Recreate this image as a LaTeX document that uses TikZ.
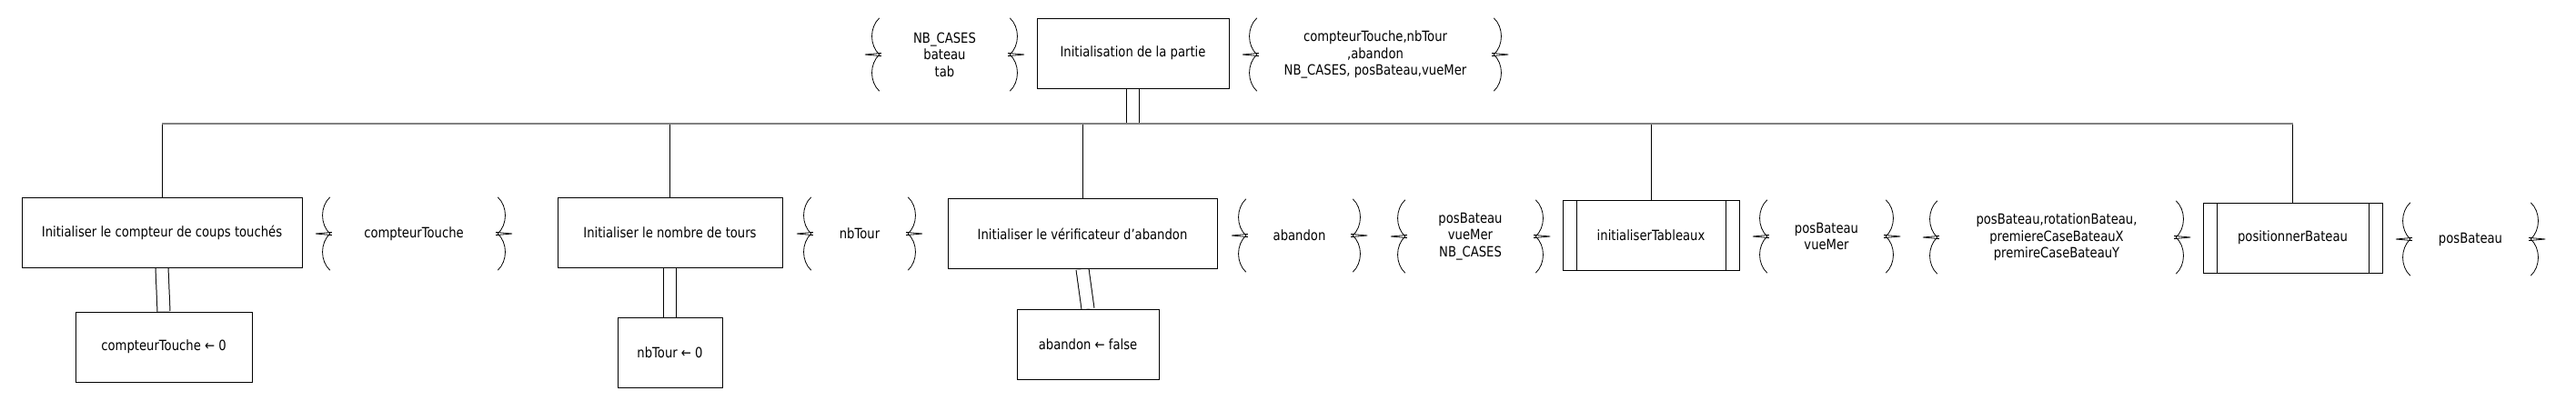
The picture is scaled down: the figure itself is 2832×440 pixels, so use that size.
\documentclass[tikz,border=0pt]{standalone}
\usepackage{fontspec}
\setmainfont{DejaVu Sans}[FakeStretch=0.85]
\usetikzlibrary{backgrounds}

% accolades de part et d'autre d'un noeud de parametres
\newcommand{\accolades}[1]{%
  \draw[fin] (#1.north west) .. controls +(-11,10) and +(-11,-10) .. (#1.west)
        .. controls +(-11,10) and +(-11,-10) .. (#1.south west);
  \draw[fin] (#1.west) ++(2,-1.6) -- ++(-18,1.6) -- ++(18,1.6);
  \draw[fin] (#1.north east) .. controls +(11,10) and +(11,-10) .. (#1.east)
        .. controls +(11,10) and +(11,-10) .. (#1.south east);
  \draw[fin] (#1.east) ++(-2,-1.6) -- ++(18,1.6) -- ++(-18,1.6);
}

\begin{document}
\begin{tikzpicture}[x=1pt,y=-1pt,
    police/.style={font=\fontsize{15.5}{18.5}\selectfont},
    bloc/.style={draw,line width=1pt,fill=white,minimum height=77pt,inner sep=0pt,police},
    sousbloc/.style={bloc,path picture={
        \draw[line width=1pt] ([xshift=15pt]path picture bounding box.north west) -- ([xshift=15pt]path picture bounding box.south west);
        \draw[line width=1pt] ([xshift=-15pt]path picture bounding box.north east) -- ([xshift=-15pt]path picture bounding box.south east);}},
    params/.style={minimum height=80pt,inner sep=0pt,align=center,police},
    fin/.style={line width=0.8pt},
    lien/.style={line width=1pt},
    liendouble/.style={double,double distance=13pt,line width=1pt},
    barre/.style={line width=2.2pt,gray}]
  \useasboundingbox (0,0) rectangle (2832,440);

  % racine
  \node[bloc,minimum width=211pt] (partie) at (1245.5,58.5) {Initialisation de la partie};
  \node[params,minimum width=143pt] (pin) at (1038.5,60) {NB\_CASES\\bateau\\tab};
  \accolades{pin}
  \node[params,minimum width=260pt] (pout) at (1512,60) {compteurTouche,nbTour\\,abandon\\NB\_CASES, posBateau,vueMer};
  \accolades{pout}
  \coordinate (hub) at (1245.5,136);

  % compteur
  \node[bloc,minimum width=308pt] (cpt) at (178,255.5) {Initialiser le compteur de coups touchés};
  \node[params,minimum width=184pt] (pcpt) at (455,257) {compteurTouche};
  \accolades{pcpt}
  \node[bloc,minimum width=194pt] (cpt0) at (180,381.5) {compteurTouche ← 0};

  % tours
  \node[bloc,minimum width=247pt] (tours) at (736.5,255.5) {Initialiser le nombre de tours};
  \node[params,minimum width=106pt] (ptours) at (945,257) {nbTour};
  \accolades{ptours}
  \node[bloc,minimum width=115pt] (tours0) at (736.5,387.5) {nbTour ← 0};

  % abandon
  \node[bloc,minimum width=296pt] (aband) at (1190,257) {Initialiser le vérificateur d'abandon};
  \node[params,minimum width=117pt] (paband) at (1428.5,259) {abandon};
  \accolades{paband}
  \node[bloc,minimum width=156pt] (aband0) at (1196,378.5) {abandon ← false};

  % tableaux
  \node[params,minimum width=143pt] (ptab) at (1616.5,260) {posBateau\\vueMer\\NB\_CASES};
  \accolades{ptab}
  \node[sousbloc,minimum width=194pt] (tab) at (1815,258.5) {initialiserTableaux};
  \node[params,minimum width=130pt] (ptabs) at (2008,260) {posBateau\\vueMer};
  \accolades{ptabs}

  % bateau
  \node[params,minimum width=262pt] (pbat) at (2261,261) {posBateau,rotationBateau,\\premiereCaseBateauX\\premireCaseBateauY};
  \accolades{pbat}
  \node[sousbloc,minimum width=197pt] (bat) at (2520.5,261.5) {positionnerBateau};
  \node[params,minimum width=132pt] (pbats) at (2716,263) {posBateau};
  \accolades{pbats}

  \begin{scope}[on background layer]
    \fill[white] (0,0) rectangle (2832,440);
    \draw[liendouble] (partie.south) -- (hub);
    \draw[liendouble] (cpt.south) -- (cpt0.north);
    \draw[liendouble] (tours.south) -- (tours0.north);
    \draw[liendouble] (aband.south) -- (aband0.north);
    \foreach \b in {cpt,tours,aband,tab,bat}
      \draw[lien] (\b.north) -- (\b.north |- hub);
  \end{scope}
  \draw[barre] (cpt.north |- hub) -- (bat.north |- hub);
\end{tikzpicture}
\end{document}
